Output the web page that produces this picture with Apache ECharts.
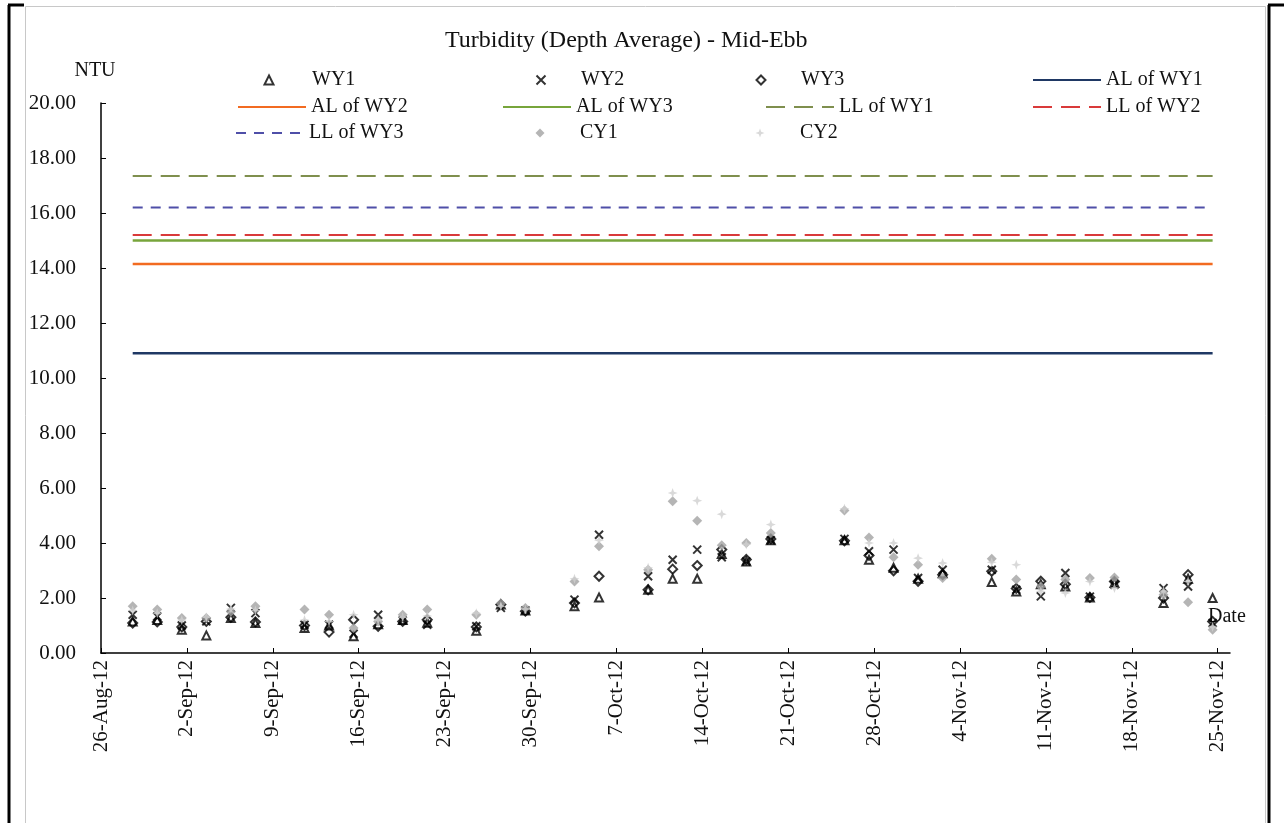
<!DOCTYPE html>
<html>
<head>
<meta charset="utf-8">
<script src="https://cdn.jsdelivr.net/npm/echarts@6/dist/echarts.min.js"></script>
<style>
  html, body { margin: 0; padding: 0; background: #fff; }
  #main { width: 1284px; height: 823px; }
</style>
</head>
<body>
<div id="main"></div>
<script>
// sampling dates (mid-ebb, afternoon)
var dates = [
  '2012-08-28', '2012-08-30', '2012-09-01', '2012-09-03', '2012-09-05', '2012-09-07',
  '2012-09-11', '2012-09-13', '2012-09-15', '2012-09-17', '2012-09-19', '2012-09-21',
  '2012-09-25', '2012-09-27', '2012-09-29', '2012-10-03', '2012-10-05', '2012-10-09',
  '2012-10-11', '2012-10-13', '2012-10-15', '2012-10-17', '2012-10-19', '2012-10-25',
  '2012-10-27', '2012-10-29', '2012-10-31', '2012-11-02', '2012-11-06', '2012-11-08',
  '2012-11-10', '2012-11-12', '2012-11-14', '2012-11-16', '2012-11-20', '2012-11-22',
  '2012-11-24'
]
var sampleHour = 14

var wy1 = [1.15, 1.20, 0.85, 0.64, 1.27, 1.09, 0.91, 1.00, 0.61, 1.05, 1.20, 1.10,
  0.81, 1.76, 1.55, 1.70, 2.02, 2.30, 2.70, 2.70, 3.60, 3.33, 4.10, 4.10,
  3.39, 3.10, 2.70, 2.90, 2.58, 2.24, 2.50, 2.42, 2.02, 2.55, 1.82, 2.70, 2.00]
var wy2 = [1.39, 1.33, 1.00, 1.15, 1.64, 1.45, 1.03, 1.03, 0.70, 1.39, 1.18, 1.03,
  0.97, 1.64, 1.55, 1.94, 4.30, 2.79, 3.39, 3.76, 3.48, 3.33, 4.10, 4.15,
  3.70, 3.76, 2.73, 3.03, 3.03, 2.30, 2.06, 2.91, 2.05, 2.48, 2.36, 2.42, 1.09]
var wy3 = [1.09, 1.13, 0.95, 1.15, 1.30, 1.13, 1.00, 0.76, 1.21, 0.97, 1.15, 1.21,
  0.95, 1.76, 1.52, 1.82, 2.79, 2.30, 3.05, 3.18, 3.76, 3.40, 4.15, 4.08,
  3.55, 2.99, 2.61, 2.85, 2.97, 2.35, 2.61, 2.50, 2.02, 2.60, 2.00, 2.85, 1.15]
var cy1 = [1.70, 1.58, 1.27, 1.27, 1.50, 1.70, 1.58, 1.39, 0.91, 1.15, 1.39, 1.58,
  1.39, 1.80, 1.64, 2.60, 3.88, 3.03, 5.52, 4.81, 3.92, 4.00, 4.36, 5.18,
  4.20, 3.48, 3.21, 2.73, 3.43, 2.67, 2.42, 2.67, 2.73, 2.75, 2.12, 1.85, 0.85]
var cy2 = [1.55, 1.45, 1.20, 1.30, 1.60, 1.55, 1.20, 1.15, 1.39, 1.20, 1.30, 1.35,
  1.45, 1.70, 1.60, 2.70, 4.10, 3.10, 5.82, 5.54, 5.05, 3.95, 4.67, 5.25,
  4.00, 4.00, 3.45, 3.27, 3.30, 3.21, 2.24, 2.18, 2.60, 2.36, 2.25, 2.60, 0.95]

// action / limit levels (NTU)
var alWY1 = 10.9
var alWY2 = 14.15
var alWY3 = 15.0
var llWY1 = 17.35
var llWY2 = 15.2
var llWY3 = 16.2

var yTicks = { min: 0, max: 20, step: 2 }
var axisStart = '2012-08-26'
var axisEnd = '2012-11-26'
var months = ['Jan', 'Feb', 'Mar', 'Apr', 'May', 'Jun', 'Jul', 'Aug', 'Sep', 'Oct', 'Nov', 'Dec']

function utc(s, h) {
  var p = s.split('-')
  return Date.UTC(+p[0], +p[1] - 1, +p[2], h || 0)
}
var t0 = utc(axisStart)
var DAY = 86400000

// x values in days from 26-Aug-12
function dayOf(s, h) {
  return (utc(s, h) - t0) / DAY
}
function pairs(values) {
  return dates.map(function (d, i) { return [dayOf(d, sampleHour), values[i]] })
}
function level(v) {
  return [[dayOf(dates[0], sampleHour), v], [dayOf(dates[dates.length - 1], sampleHour), v]]
}
function fmtDay(v) {
  var d = new Date(t0 + v * DAY)
  return d.getUTCDate() + '-' + months[d.getUTCMonth()] + '-' + String(d.getUTCFullYear()).slice(2)
}

var xMax = dayOf(axisEnd)
var weekTicks = []
for (var w = 0; w < xMax; w += 7) weekTicks.push(w)

var FONT = '"Liberation Serif", "Times New Roman", serif'
var crossPath = 'path://M0,0L10,10M10,0L0,10'
var starPath = 'path://M5,0L6.3,3.7L10,5L6.3,6.3L5,10L3.7,6.3L0,5L3.7,3.7Z'

function markerSeries(name, values, symbol, size, style) {
  return {
    name: name,
    type: 'scatter',
    data: pairs(values),
    symbol: symbol,
    symbolSize: size,
    itemStyle: style
  }
}
function levelSeries(name, v, color, type, width) {
  return {
    name: name,
    type: 'line',
    data: level(v),
    symbol: 'none',
    silent: true,
    itemStyle: { color: 'transparent', borderColor: 'transparent', borderWidth: 0 },
    lineStyle: { color: color, width: width || 2, type: type }
  }
}

// one legend per entry so the 4-column grid matches the original layout
var legendText = { fontFamily: FONT, fontSize: 20, color: '#111', lineHeight: 18 }
function markerLegend(name, cx, cy, textX) {
  return {
    data: [name],
    left: cx - 4.5,
    top: cy - 9,
    padding: 0,
    itemWidth: 9,
    itemHeight: 9,
    selectedMode: false,
    textStyle: Object.assign({ padding: [0, 0, 0, textX - cx - 9.5] }, legendText)
  }
}
function lineLegend(name, x, cy) {
  return {
    data: [name],
    left: x,
    top: cy - 9,
    padding: 0,
    itemWidth: 68,
    itemHeight: 9,
    selectedMode: false,
    textStyle: legendText
  }
}

var chart = echarts.init(document.getElementById('main'))

var option = {
  animation: false,
  backgroundColor: '#fff',
  textStyle: { fontFamily: FONT },
  title: {
    text: 'Turbidity (Depth Average) - Mid-Ebb',
    left: 440,
    top: 24,
    textStyle: { fontFamily: FONT, fontSize: 24, fontWeight: 'normal', color: '#111' }
  },
  legend: [
    markerLegend('WY1', 268, 79, 311),
    markerLegend('WY2', 540, 79, 580),
    markerLegend('WY3', 760, 79, 800),
    lineLegend('AL of WY1', 1032, 79),
    lineLegend('AL of WY2', 237, 106),
    lineLegend('AL of WY3', 502, 106),
    lineLegend('LL of WY1', 765, 106),
    lineLegend('LL of WY2', 1032, 106),
    lineLegend('LL of WY3', 235, 132),
    markerLegend('CY1', 540, 132, 580),
    markerLegend('CY2', 760, 132, 800)
  ],
  grid: { left: 101, right: 54, top: 103, bottom: 170 },
  xAxis: {
    type: 'value',
    min: 0,
    max: xMax,
    interval: 7,
    name: 'Date',
    nameLocation: 'end',
    nameGap: -22,
    nameTextStyle: { fontFamily: FONT, fontSize: 20, color: '#111', verticalAlign: 'bottom', padding: [0, 0, 26, 0] },
    axisLine: { lineStyle: { color: '#000', width: 1.5 } },
    axisTick: { inside: true, length: 5, customValues: weekTicks, lineStyle: { color: '#000' } },
    axisLabel: {
      rotate: 90,
      margin: 7,
      customValues: weekTicks,
      fontFamily: FONT,
      fontSize: 21,
      color: '#111',
      formatter: fmtDay
    },
    splitLine: { show: false }
  },
  yAxis: {
    type: 'value',
    min: yTicks.min,
    max: yTicks.max,
    interval: yTicks.step,
    name: 'NTU',
    nameGap: 22,
    nameTextStyle: { fontFamily: FONT, fontSize: 20, color: '#111', padding: [0, 12, 0, 0] },
    axisLine: { show: true, lineStyle: { color: '#000', width: 1.5 } },
    axisTick: { show: true, inside: true, length: 5, lineStyle: { color: '#000' } },
    axisLabel: {
      margin: 25,
      fontFamily: FONT,
      fontSize: 21,
      color: '#111',
      formatter: function (v) { return v.toFixed(2) }
    },
    splitLine: { show: false }
  },
  graphic: [
    { type: 'line', shape: { x1: 9, y1: 5, x2: 9, y2: 823 }, style: { stroke: '#000', lineWidth: 3 } },
    { type: 'line', shape: { x1: 8, y1: 5, x2: 24, y2: 5 }, style: { stroke: '#000', lineWidth: 3 } },
    { type: 'line', shape: { x1: 1269, y1: 5, x2: 1269, y2: 823 }, style: { stroke: '#000', lineWidth: 3 } },
    { type: 'line', shape: { x1: 1268, y1: 5, x2: 1284, y2: 5 }, style: { stroke: '#000', lineWidth: 3 } },
    { type: 'rect', shape: { x: 25.5, y: 6.5, width: 1240, height: 830 }, style: { fill: 'none', stroke: '#c8c8c8', lineWidth: 1 } }
  ],
  series: [
    markerSeries('WY1', wy1, 'triangle', 8, { color: 'transparent', borderColor: '#000', borderWidth: 2 }),
    markerSeries('WY2', wy2, crossPath, 8, { color: 'transparent', borderColor: '#000', borderWidth: 2 }),
    markerSeries('WY3', wy3, 'diamond', 9, { color: 'transparent', borderColor: '#000', borderWidth: 2 }),
    levelSeries('AL of WY1', alWY1, '#1f3864', 'solid', 2.5),
    levelSeries('AL of WY2', alWY2, '#f26b21', 'solid', 2.5),
    levelSeries('AL of WY3', alWY3, '#77a53b', 'solid', 2.5),
    levelSeries('LL of WY1', llWY1, '#7f8f4e', [19, 9], 2),
    levelSeries('LL of WY2', llWY2, '#d93a3a', [19, 9], 2),
    levelSeries('LL of WY3', llWY3, '#4f4fa8', [10, 8], 2),
    markerSeries('CY1', cy1, 'diamond', 10, { color: '#a3a3a3' }),
    markerSeries('CY2', cy2, starPath, 10, { color: '#cfcfcf' })
  ]
}

option && chart.setOption(option, true)
</script>
</body>
</html>
